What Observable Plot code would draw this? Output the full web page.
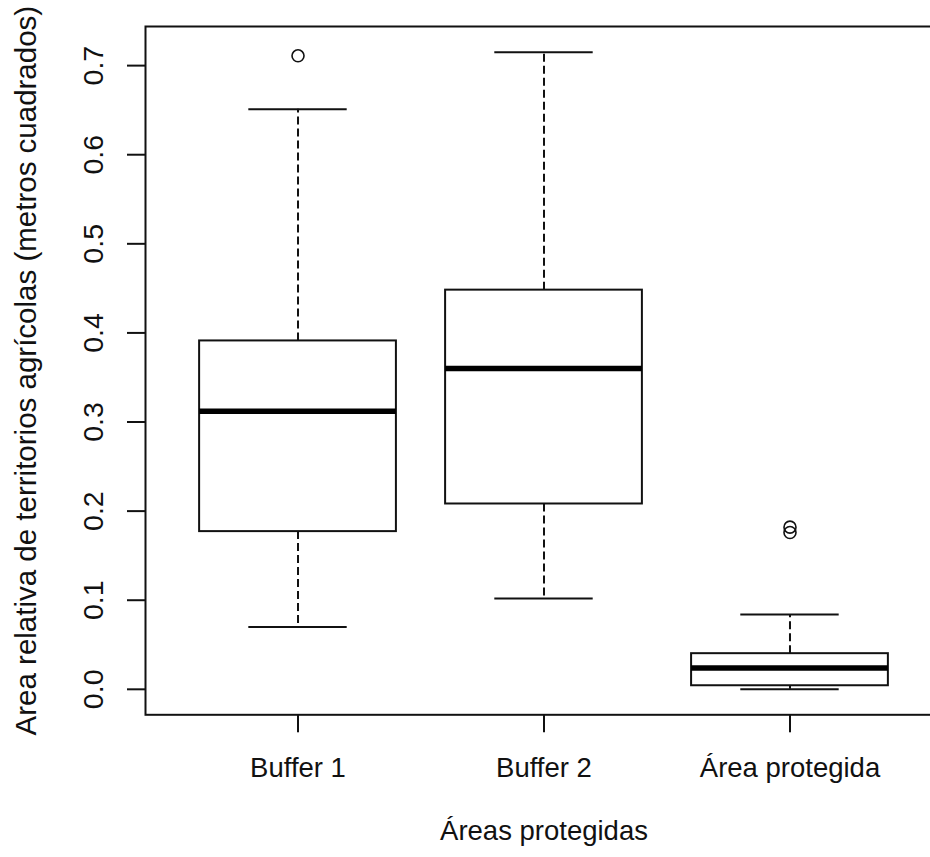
<!DOCTYPE html>
<html>
<head>
<meta charset="utf-8">
<script src="https://cdn.jsdelivr.net/npm/d3@7"></script>
<script src="https://cdn.jsdelivr.net/npm/@observablehq/plot@0.6"></script>
<style>
  html, body { margin: 0; padding: 0; background: white; overflow: hidden; }
</style>
</head>
<body>
<div id="chart"></div>
<script>
// ---- data ----
const categories = ["Buffer 1", "Buffer 2", "Área protegida"];
const lowerWhisker = [0.070, 0.102, 0.000];
const q1 = [0.177, 0.208, 0.004];
const median = [0.312, 0.360, 0.024];
const q3 = [0.391, 0.448, 0.040];
const upperWhisker = [0.651, 0.715, 0.084];
const outliers = [[0.711], [], [0.176, 0.182]];

const yTicks = [0, 0.1, 0.2, 0.3, 0.4, 0.5, 0.6, 0.7];
const yTickLabels = ["0.0", "0.1", "0.2", "0.3", "0.4", "0.5", "0.6", "0.7"];
const yTitle = "Area relativa de territorios agrícolas (metros cuadrados)";
const xTitle = "Áreas protegidas";

// ---- derived tables ----
const stats = categories.map((c, i) => ({
  cat: c, pos: i + 1,
  lower: lowerWhisker[i], q1: q1[i], median: median[i], q3: q3[i], upper: upperWhisker[i]
}));
const outlierRows = outliers.flatMap((vals, i) => vals.map(v => ({pos: i + 1, value: v})));
const tickRows = yTicks.map((v, i) => ({value: v, label: yTickLabels[i]}));

const BOX_HALF = 0.4, CAP_HALF = 0.2;
const LW = 2;

const chart = Plot.plot({
  width: 930,
  height: 857,
  marginLeft: 145,
  marginRight: -12,
  marginTop: 26,
  marginBottom: 142.7,
  style: {fontFamily: "'Liberation Sans', Arial, sans-serif", fontSize: "27px", color: "#111", background: "white"},
  x: {type: "linear", domain: [0.38, 3.62]},
  y: {type: "linear", domain: [-0.0286, 0.7439]},
  marks: [
    // frame (right side falls outside the visible area as in the reference)
    Plot.frame({stroke: "#111", strokeWidth: LW}),
    // axis ticks
    Plot.axisY({ticks: yTicks, tickSize: 18, fill: "none", stroke: "#111", strokeWidth: LW, label: null}),
    Plot.axisX({ticks: [1, 2, 3], tickFormat: d => categories[d - 1], tickSize: 18, tickPadding: 25,
      stroke: "#111", strokeWidth: LW, fill: "#111", fontSize: 27.5, label: null}),
    // rotated y tick labels
    Plot.text(tickRows, {x: () => 0.38, y: "value", text: "label", rotate: -90, dx: -43,
      textAnchor: "middle", lineAnchor: "bottom", fill: "#111", fontSize: 28.5}),
    // y title
    Plot.text([yTitle], {frameAnchor: "left", text: d => d, rotate: -90, dx: -110,
      textAnchor: "middle", lineAnchor: "bottom", fill: "#111", fontSize: 29.5}),
    // x title
    Plot.text([xTitle], {frameAnchor: "bottom", text: d => d, dy: 125,
      textAnchor: "middle", lineAnchor: "bottom", fill: "#111", fontSize: 27.5}),
    // whiskers (dashed)
    Plot.ruleX(stats, {x: "pos", y1: "q3", y2: "upper", stroke: "#111", strokeWidth: LW, strokeDasharray: "8,4"}),
    Plot.ruleX(stats, {x: "pos", y1: "q1", y2: "lower", stroke: "#111", strokeWidth: LW, strokeDasharray: "8,4"}),
    // whisker caps
    Plot.ruleY(stats, {y: "upper", x1: d => d.pos - CAP_HALF, x2: d => d.pos + CAP_HALF, stroke: "#111", strokeWidth: LW}),
    Plot.ruleY(stats, {y: "lower", x1: d => d.pos - CAP_HALF, x2: d => d.pos + CAP_HALF, stroke: "#111", strokeWidth: LW}),
    // boxes
    Plot.rect(stats, {x1: d => d.pos - BOX_HALF, x2: d => d.pos + BOX_HALF, y1: "q1", y2: "q3",
      fill: "white", stroke: "#111", strokeWidth: LW}),
    // medians
    Plot.ruleY(stats, {y: "median", x1: d => d.pos - BOX_HALF, x2: d => d.pos + BOX_HALF, stroke: "black", strokeWidth: 5.5}),
    // outliers
    Plot.dot(outlierRows, {x: "pos", y: "value", r: 6, stroke: "#111", strokeWidth: 1.6, fill: "none"})
  ]
});
document.getElementById("chart").appendChild(chart);
</script>
</body>
</html>
